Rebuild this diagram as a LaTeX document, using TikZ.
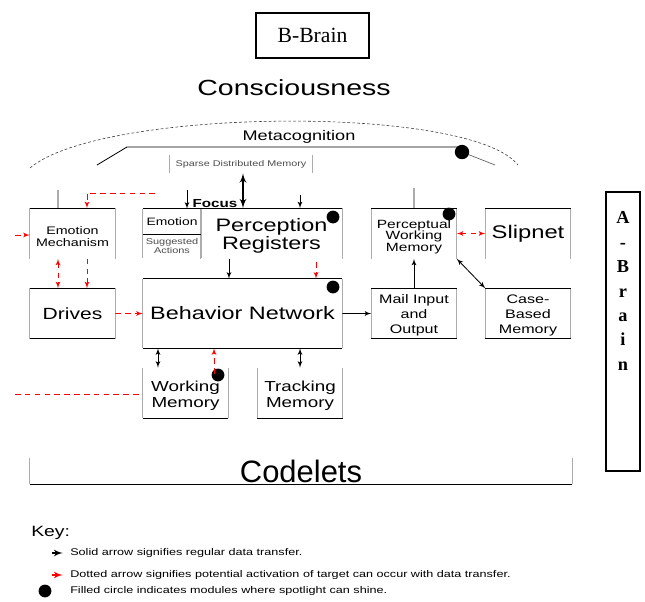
\documentclass[tikz,border=0pt]{standalone}
\usepackage{fontspec}
\setmainfont{Liberation Serif}
\newfontfamily\wide[FakeStretch=1.3]{Liberation Sans}
\newfontfamily\plainsans{Liberation Sans}
\usetikzlibrary{positioning, arrows}
\newcommand{\fsz}[2]{\fontsize{#1pt}{#2pt}\selectfont}
\newcommand{\tdrop}[1]{\rule{0pt}{#1em}}
\tikzset{>=latex', x=0.025cm, y=-0.025cm,
  unit/.style={rectangle, inner sep=0pt, minimum width=2.125cm, minimum height=1.25cm, align=center},
  frame/.style={draw, line width=0.9pt},
  rim/.style={black, line width=0.8pt},
  side/.style={gray!65, line width=0.9pt},
  flow/.style={->, line width=0.6pt},
  act/.style={->, red, line width=0.6pt, dash pattern=on 4pt off 3pt},
  spot/.style={circle, fill=black, inner sep=0pt, minimum size=0.32cm},
  keytext/.style={font=\wide\fsz{6.9}{7.5}, anchor=west, inner sep=0pt}}

\begin{document}
\begin{tikzpicture}
	\useasboundingbox (0,0) rectangle (645,601);
	% brains and consciousness
	\node[unit, frame, minimum width=2.825cm, minimum height=1.125cm, font=\fsz{15.4}{17}] (bbrain) at (312.5,35.5) {B-Brain};
	\node[font=\wide\fsz{15.6}{18}] (consc) at (294,88) {Consciousness};
	\draw[black!80, dash pattern=on 2pt off 1.5pt] (30,168) .. controls (100,108) and (470,104) .. (518,165);
	\node[unit, frame, minimum width=0.85cm, minimum height=6.975cm] (abrain) at (623,331.5) {};
	\node[font=\bfseries\fsz{13}{17.4}, align=center] (abtext) at (623,291) {A\\-\\B\\r\\a\\i\\n};

	% metacognition
	\node[font=\wide\fsz{9.9}{11}] (meta) at (299,137) {Metacognition};
	\node[spot, minimum size=0.36cm] (metaspot) at (462,152) {};
	\draw[rim, line width=0.6pt] (97,165) -- (127,147) -- (458,147);
	\draw[black!60, line width=0.5pt] (metaspot) -- (495,165);
	\node[unit, minimum width=3.55cm, minimum height=0.45cm, font=\wide\fsz{5.9}{7}, text=black!70] (sdm) at (241,164) {Sparse Distributed Memory};
	\draw[side] (sdm.north west) -- (sdm.south west) (sdm.north east) -- (sdm.south east);

	% modules
	\node[unit, font=\wide\fsz{7.8}{8.5}] (em) at (72.5,233.5) {\tdrop{1.27}Emotion\\Mechanism};
	\node[unit, below of=em, node distance=2cm, font=\wide\fsz{11.5}{13}] (drives) {Drives};
	\node[unit, minimum width=1.45cm, minimum height=0.625cm, font=\wide\fsz{7.6}{8}] (emo) at (172,221.5) {Emotion};
	\node[unit, below of=emo, node distance=0.6125cm, minimum width=1.45cm, minimum height=0.6cm, font=\wide\fsz{6}{6.4}, text=black!70] (sugg) {Suggested\\Actions};
	\node[unit, minimum width=3.525cm, font=\wide\fsz{12.8}{12.8}] (perc) at (271.5,233.5) {\tdrop{0.95}Perception\\Registers};
	\node[unit, minimum width=4.975cm, minimum height=1.725cm, font=\wide\fsz{12.8}{14}] (beh) at (242.5,313.5) {Behavior Network};
	\node[unit, font=\wide\fsz{10.3}{11.3}] (wm) at (185.5,393) {\tdrop{1.15}Working\\Memory};
	\node[unit, right of=wm, node distance=2.8625cm, font=\wide\fsz{10.3}{11.3}] (tm) {\tdrop{1.15}Tracking\\Memory};
	\node[unit, font=\wide\fsz{8.5}{8.2}] (pwm) at (414,233.5) {\tdrop{1.23}Perceptual\\Working\\Memory};
	\node[unit, right of=pwm, node distance=2.85cm, font=\wide\fsz{13}{14}] (slip) {Slipnet};
	\node[unit, below of=pwm, node distance=2cm, font=\wide\fsz{8.8}{10.6}] (mail) {\tdrop{1.05}Mail Input\\and\\Output};
	\node[unit, below of=slip, node distance=2cm, font=\wide\fsz{8.8}{10.6}] (cbm) {\tdrop{1.05}Case-\\Based\\Memory};
	\node[unit, minimum width=13.55cm, minimum height=0.65cm, font=\plainsans\fsz{22}{24}] (codel) at (301,471) {Codelets};
	\node[font=\wide\bfseries\fsz{8.3}{9}, anchor=south, inner sep=1pt] (focus) at (215,209) {Focus};

	% module borders: grey sides, black rims
	\foreach \n in {em,drives,perc,beh,wm,tm,pwm,slip,mail,cbm,emo,sugg,codel}
		\draw[side] (\n.north west) -- (\n.south west) (\n.north east) -- (\n.south east);
	\foreach \n in {em,drives,emo,perc,beh,pwm,slip,mail,cbm}
		\draw[rim] (\n.north west) -- (\n.north east);
	\foreach \n in {drives,emo,beh,wm,tm,mail,cbm,codel}
		\draw[rim] (\n.south west) -- (\n.south east);

	% spotlight
	\node[spot] (percspot) at (333,217) {};
	\node[spot] (behspot) at (333,287) {};
	\node[spot] (wmspot) at (218,375) {};
	\node[spot] (pwmspot) at (449,214) {};

	% connectors
	\coordinate (f1) at (187,190);
	\coordinate (f2) at (300,195);
	\coordinate (g1) at (58,190);
	\coordinate (g2) at (414,188);
	\coordinate (r1) at (155,193);
	\coordinate (r1b) at (87,193);
	\coordinate (r2) at (15,235);
	\coordinate (r3) at (316,262);
	\coordinate (r4) at (15,394);
	\draw[<->, line width=1.3pt] (sdm.south -| perc.north) ++(-28.5,0) coordinate (sd) (sd) -- (sd |- perc.north);
	\draw[flow] (f1) -- (f1 |- emo.north);
	\draw[flow] (f2) -- (f2 |- perc.north);
	\draw[side] (g1) -- (g1 |- em.north);
	\draw[side] (g2) -- (pwm);
	\draw[act] (r1) -- (r1b) -- (r1b |- em.north);
	\draw[act] (r2) -- (r2 -| em.west);
	\draw[act, <->] (g1 |- em.south) -- (g1 |- drives.north);
	\draw[act] (r1b |- em.south) -- (r1b |- drives.north);
	\draw[act] (drives) -- (beh);
	\draw[flow] ([xshift=-1.0625cm]perc.south) -- ([xshift=-1.0625cm]perc.south |- beh.north);
	\draw[act] (r3) -- (r3 |- beh.north);
	\draw[flow] (beh) -- (mail);
	\draw[flow] (mail) -- (pwm);
	\draw[act, <->] (pwm) -- (slip);
	\draw[flow, <->] (pwm.south east) -- (cbm.north west);
	\draw[flow, <->] ([xshift=-0.6875cm]wm.north) -- ([xshift=-0.6875cm]wm.north |- beh.south);
	\draw[act] ([xshift=0.7125cm, yshift=-0.15cm]wm.north) -- ([xshift=0.7125cm]wm.north |- beh.south);
	\draw[flow, <->] (tm.north) -- (tm.north |- beh.south);
	\draw[act, -] (r4) -- (r4 -| wm.west);

	% key
	\node[font=\wide\fsz{10.6}{12}, anchor=west, inner sep=0pt] (key) at (31,533) {Key:};
	\node[keytext] (ksolid) at (70,553) {Solid arrow signifies regular data transfer.};
	\node[keytext] (kdot) at (70,575) {Dotted arrow signifies potential activation of target can occur with data transfer.};
	\node[spot] (kspot) at (45,591) {};
	\node[keytext] (kfill) at (70,591) {Filled circle indicates modules where spotlight can shine.};
	\draw[flow, line width=1.2pt] ([xshift=-0.45cm]ksolid.west) -- ([xshift=-0.18cm]ksolid.west);
	\draw[act, solid, line width=1.2pt] ([xshift=-0.45cm]kdot.west) -- ([xshift=-0.18cm]kdot.west);
\end{tikzpicture}
\end{document}
